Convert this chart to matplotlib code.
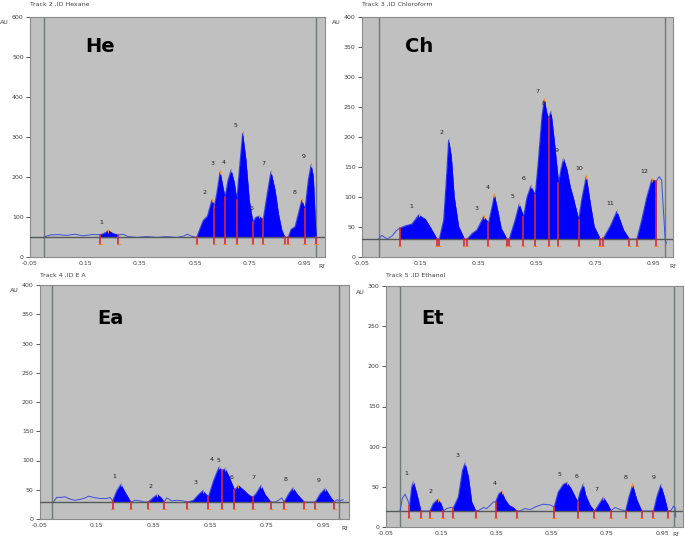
import numpy as np
import matplotlib
matplotlib.use("Agg")
import matplotlib.pyplot as plt

# ---------------- data (Rf, AU) ----------------
# Hexane
he_rf = [0.005, 0.023, 0.053, 0.083, 0.114, 0.144, 0.174, 0.205, 0.219, 0.235, 0.251, 0.271,
         0.289, 0.307, 0.338, 0.374, 0.411, 0.447, 0.483, 0.508, 0.522, 0.538, 0.556, 0.568,
         0.580, 0.595, 0.611, 0.620, 0.629, 0.641, 0.651, 0.659, 0.670, 0.681, 0.692, 0.702,
         0.711, 0.723, 0.735, 0.747, 0.760, 0.771, 0.782, 0.798, 0.811, 0.826, 0.841, 0.853,
         0.865, 0.877, 0.889, 0.899, 0.914, 0.926, 0.938, 0.950, 0.962, 0.972, 0.980, 0.986, 0.990]
he_au = [51, 55, 56, 54, 57, 53, 56, 56, 59, 66, 59, 55,
         57, 51, 49, 51, 49, 51, 49, 52, 57, 52, 49, 71,
         92, 102, 142, 127, 159, 213, 176, 149, 192, 217, 188, 142,
         217, 309, 242, 142, 88, 99, 102, 94, 151, 213, 167, 109,
         68, 49, 49, 69, 76, 109, 142, 119, 192, 230, 201, 109, 49]
he_baseline = 49
he_regions = [(0.205, 0.271), (0.556, 0.877), (0.889, 0.990)]
he_bounds = [0.205, 0.271, 0.556, 0.620, 0.659, 0.702, 0.760, 0.798, 0.877, 0.889, 0.950, 0.990]
he_peak_rf = [0.235, 0.611, 0.641, 0.681, 0.723, 0.782, 0.826, 0.938, 0.972]
he_peak_au = [66, 142, 213, 217, 309, 102, 213, 142, 230]

# Chloroform
ch_rf = [0.007, 0.018, 0.036, 0.053, 0.068, 0.079, 0.098, 0.121, 0.144, 0.167, 0.186, 0.207,
         0.215, 0.230, 0.239, 0.247, 0.256, 0.266, 0.281, 0.301, 0.310, 0.327, 0.344, 0.367,
         0.384, 0.396, 0.404, 0.415, 0.427, 0.447, 0.455, 0.476, 0.489, 0.504, 0.516, 0.529,
         0.544, 0.555, 0.567, 0.575, 0.584, 0.590, 0.598, 0.609, 0.624, 0.632, 0.641, 0.653,
         0.664, 0.675, 0.693, 0.704, 0.719, 0.733, 0.746, 0.767, 0.778, 0.801, 0.824, 0.847,
         0.867, 0.893, 0.910, 0.927, 0.944, 0.959, 0.970, 0.978, 0.990, 0.994]
ch_au = [30, 36, 30, 35, 44, 48, 52, 55, 70, 63, 48, 30,
         30, 62, 128, 195, 167, 100, 51, 30, 30, 39, 45, 67,
         57, 84, 103, 78, 48, 30, 30, 63, 88, 67, 100, 118,
         103, 162, 234, 262, 239, 231, 242, 195, 123, 145, 164, 145,
         117, 98, 62, 97, 134, 89, 51, 30, 31, 51, 76, 45,
         30, 30, 63, 100, 129, 126, 134, 128, 30, 23]
ch_baseline = 30
ch_regions = [(0.079, 0.207), (0.215, 0.301), (0.310, 0.447), (0.455, 0.767),
              (0.778, 0.867), (0.893, 0.959)]
ch_bounds = [0.079, 0.207, 0.215, 0.301, 0.310, 0.384, 0.447, 0.455, 0.504, 0.544,
             0.590, 0.624, 0.693, 0.767, 0.778, 0.867, 0.893, 0.959]
ch_peak_rf = [0.144, 0.247, 0.367, 0.404, 0.489, 0.529, 0.575, 0.598, 0.641, 0.719, 0.824, 0.944]
ch_peak_au = [70, 195, 67, 103, 88, 118, 262, 242, 164, 134, 76, 129]

# Ethyl acetate
ea_rf = [-0.003, 0.009, 0.026, 0.038, 0.056, 0.074, 0.091, 0.109, 0.121, 0.138, 0.162, 0.185,
         0.197, 0.206, 0.221, 0.235, 0.250, 0.270, 0.285, 0.303, 0.320, 0.332, 0.350, 0.364,
         0.376, 0.388, 0.397, 0.415, 0.433, 0.456, 0.470, 0.491, 0.509, 0.524, 0.536, 0.544,
         0.562, 0.581, 0.591, 0.603, 0.615, 0.627, 0.636, 0.650, 0.668, 0.685, 0.701, 0.715,
         0.729, 0.744, 0.764, 0.780, 0.791, 0.803, 0.811, 0.827, 0.842, 0.858, 0.882, 0.901,
         0.921, 0.938, 0.956, 0.974, 0.988, 0.997, 1.007, 1.020]
ea_au = [29, 37, 37, 38, 34, 32, 33.5, 36, 39, 37, 35, 35,
         37, 31, 48.5, 59, 45.6, 29, 32, 31, 29, 29, 37, 41.7,
         37, 29, 36, 31, 32, 31, 29, 32, 41.7, 48.5, 41.7, 38,
         65.7, 88.5, 83, 85.7, 74.3, 60, 49.6, 57, 49.6, 41.7, 37, 45.6,
         57, 41.7, 29, 29, 32, 36, 29, 43, 53, 41.7, 29, 29,
         29, 43, 52, 38, 29, 33, 31, 33]
ea_baseline = 29
ea_regions = [(0.206, 0.270), (0.332, 0.388), (0.470, 0.764), (0.811, 0.882), (0.921, 0.988)]
ea_bounds = [0.206, 0.270, 0.332, 0.388, 0.470, 0.544, 0.591, 0.636, 0.701, 0.764,
             0.811, 0.882, 0.921, 0.988]
ea_peak_rf = [0.235, 0.364, 0.524, 0.581, 0.603, 0.650, 0.729, 0.842, 0.956]
ea_peak_au = [59, 41.7, 48.5, 88.5, 85.7, 57, 57, 53, 52]

# Ethanol
et_rf = [0.001, 0.009, 0.019, 0.029, 0.035, 0.043, 0.049, 0.061, 0.076, 0.085, 0.109, 0.121,
         0.137, 0.149, 0.158, 0.170, 0.182, 0.194, 0.212, 0.227, 0.236, 0.248, 0.260, 0.275,
         0.287, 0.303, 0.315, 0.327, 0.339, 0.347, 0.359, 0.369, 0.381, 0.396, 0.411, 0.423,
         0.436, 0.454, 0.472, 0.496, 0.520, 0.544, 0.559, 0.574, 0.593, 0.605, 0.620, 0.635,
         0.644, 0.653, 0.664, 0.673, 0.689, 0.705, 0.719, 0.737, 0.753, 0.765, 0.780, 0.798,
         0.810, 0.818, 0.830, 0.843, 0.858, 0.876, 0.898, 0.919, 0.931, 0.945, 0.958, 0.971,
         0.983, 0.991, 0.997, 1.000]
et_au = [20, 35.5, 40.9, 33.4, 26, 50, 56.3, 41.7, 20, 20, 20, 29.2,
         34.2, 29.2, 20, 23, 24.2, 24.2, 37.5, 70.9, 79.2, 62.5, 31.3, 20,
         20.8, 24.2, 23, 27, 31.3, 31.3, 41.7, 43.8, 34.2, 27, 24.2, 20,
         20, 23, 21.7, 25.8, 28.3, 27.5, 25, 43.8, 53.4, 55, 48, 37.5,
         31.3, 43.8, 53, 39.6, 27, 20, 27, 36.7, 28.3, 20, 24.2, 21.7,
         20.8, 20, 37.5, 52.1, 34.2, 20, 20, 20, 37.5, 52.1, 37.5, 20,
         20.8, 25.8, 24.2, 12.5]
et_baseline = 20
et_regions = [(0.035, 0.076), (0.109, 0.158), (0.194, 0.275), (0.347, 0.423),
              (0.559, 0.765), (0.818, 0.876), (0.919, 0.971)]
et_bounds = [0.035, 0.076, 0.109, 0.158, 0.194, 0.275, 0.347, 0.423, 0.559, 0.644,
             0.705, 0.765, 0.818, 0.876, 0.919, 0.971]
et_peak_rf = [0.049, 0.137, 0.236, 0.369, 0.605, 0.664, 0.737, 0.843, 0.945]
et_peak_au = [56.3, 34.2, 79.2, 43.8, 55, 53, 36.7, 52.1, 52.1]

x_ticks = [-0.05, 0.15, 0.35, 0.55, 0.75, 0.95]
x_tick_labels = ["-0.05", "0.15", "0.35", "0.55", "0.75", "0.95"]

panels = [
    dict(name="He", title="Track 2 ,ID Hexane", rf=he_rf, au=he_au, base=he_baseline,
         regions=he_regions, bounds=he_bounds, prf=he_peak_rf, pau=he_peak_au,
         ymax=600, ystep=100, box=(30, 17, 325, 257), xmax=1.023, scan=(0.0, 0.99),
         lab=(0.237, 0.875), title_y=4.5, rf_x=322, rf_y=266),
    dict(name="Ch", title="Track 3 ,ID Chloroform", rf=ch_rf, au=ch_au, base=ch_baseline,
         regions=ch_regions, bounds=ch_bounds, prf=ch_peak_rf, pau=ch_peak_au,
         ymax=400, ystep=50, box=(362, 17, 673, 257), xmax=1.017, scan=(0.007, 0.99),
         lab=(0.185, 0.875), title_y=4.5, rf_x=673, rf_y=267),
    dict(name="Ea", title="Track 4 ,ID E A", rf=ea_rf, au=ea_au, base=ea_baseline,
         regions=ea_regions, bounds=ea_bounds, prf=ea_peak_rf, pau=ea_peak_au,
         ymax=400, ystep=50, box=(40, 285, 349, 519), xmax=1.04, scan=(-0.006, 1.006),
         lab=(0.227, 0.858), title_y=275, rf_x=345, rf_y=529),
    dict(name="Et", title="Track 5 ,ID Ethanol", rf=et_rf, au=et_au, base=et_baseline,
         regions=et_regions, bounds=et_bounds, prf=et_peak_rf, pau=et_peak_au,
         ymax=300, ystep=50, box=(386, 286, 683, 527), xmax=1.026, scan=(0.001, 0.995),
         lab=(0.158, 0.867), title_y=275, rf_x=676, rf_y=534),
]

W, H = 685, 540
fig = plt.figure(figsize=(W / 100, H / 100), dpi=100)
fig.patch.set_facecolor("white")

BG = "#c0c0c0"
BLUE = "#0000ff"
TRACE = "#3f4fd8"
RED = "#d42a3a"
ORANGE = "#f08a30"

for p in panels:
    x0, y0, x1, y1 = p["box"]
    ax = fig.add_axes([x0 / W, 1 - y1 / H, (x1 - x0) / W, (y1 - y0) / H])
    ax.set_facecolor(BG)
    rf = np.array(p["rf"], dtype=float)
    au = np.array(p["au"], dtype=float)
    base = p["base"]
    ymax = p["ymax"]
    ax.set_xlim(-0.05, p["xmax"])
    ax.set_ylim(0, ymax)

    # scan limits
    for s in p["scan"]:
        ax.axvline(s, color="#6f7a78", lw=1.0, zorder=1)

    # trace
    ax.plot(rf, au, color=TRACE, lw=0.7, zorder=2)
    # filled peaks
    for a, b in p["regions"]:
        m = (rf >= a - 1e-9) & (rf <= b + 1e-9)
        ax.fill_between(rf[m], base, au[m], color=BLUE, lw=0.3, edgecolor=BLUE, zorder=3)
    # baseline
    ax.axhline(base, color="#555a5a", lw=1.0, zorder=4)
    # peak boundaries
    d = 0.028 * ymax
    for b in p["bounds"]:
        top = float(np.interp(b, rf, au))
        ax.plot([b, b], [base - d, top], color=RED, lw=1.2, zorder=5)
        ax.plot([b - 0.006, b + 0.006], [base - d, base - d], color=ORANGE, lw=0.6, zorder=5)
    # peak tops and numbers
    ax.plot(p["prf"], p["pau"], ls="none", marker="|", ms=3.5, mew=0.8, color=ORANGE, zorder=6)
    for i, (xr, yr) in enumerate(zip(p["prf"], p["pau"])):
        ax.annotate(str(i + 1), (xr, yr), xytext=(-7, 8), textcoords="offset pixels",
                    ha="center", va="center", fontsize=4.5, color="#202020", zorder=7)

    # big panel label
    ax.text(p["lab"][0], p["lab"][1], p["name"], transform=ax.transAxes, ha="center",
            va="center", fontsize=14, fontweight="heavy", color="black",
            family="DejaVu Sans")

    # axes styling
    ax.set_xticks(x_ticks)
    ax.set_xticklabels(x_tick_labels)
    ax.set_yticks(np.arange(0, ymax + 1, p["ystep"]))
    ax.tick_params(axis="both", labelsize=4.5, colors="#404040", length=3, width=0.6,
                   direction="out", pad=1.5)
    ax.tick_params(axis="x", length=0, pad=3)
    for sp in ax.spines.values():
        sp.set_color("#8a8a8a")
        sp.set_linewidth(0.8)

    # texts around the axes
    fig.text(x0 / W, 1 - p["title_y"] / H, p["title"],
             fontsize=4.5, color="#404040", ha="left", va="center")
    fig.text(p["rf_x"] / W, 1 - p["rf_y"] / H, "Rf", fontsize=4.5, color="#404040",
             ha="center", va="center")
    fig.text((x0 - 26) / W, 1 - (y0 + 6) / H, "AU", fontsize=4.5, color="#404040",
             ha="center", va="center")

fig.savefig("out.png", dpi=100, facecolor="white")
